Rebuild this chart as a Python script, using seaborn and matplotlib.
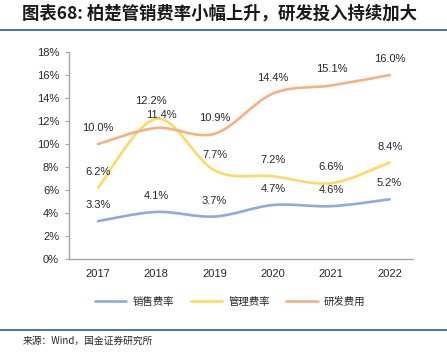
import matplotlib
matplotlib.use("Agg")
import matplotlib.pyplot as plt
import seaborn as sns
import numpy as np
from matplotlib.path import Path
from matplotlib.patches import PathPatch
from matplotlib.lines import Line2D

years = ["2017", "2018", "2019", "2020", "2021", "2022"]
sales_rate = [3.3, 4.1, 3.7, 4.7, 4.6, 5.2]      # 销售费率
admin_rate = [6.2, 12.2, 7.7, 7.2, 6.6, 8.4]     # 管理费率
rd_rate = [10.0, 11.4, 10.9, 14.4, 15.1, 16.0]   # 研发费用

series_names = ["销售费率", "管理费率", "研发费用"]
series_vals = [sales_rate, admin_rate, rd_rate]
colors = ["#8FAADC", "#FFD966", "#F4B183"]

sns.set_theme(style="white")
plt.rcParams["font.family"] = ["Liberation Sans", "Noto Sans CJK SC", "DejaVu Sans"]

fig = plt.figure(figsize=(4.47, 3.52), dpi=100)
ax = fig.add_axes([0.154, 0.264, 0.77, 0.588])


def smooth_path(xs, ys):
    # excel-like smoothed line: cubic bezier segments through every point
    pts = np.column_stack([xs, ys]).astype(float)
    ext = np.vstack([pts[0], pts, pts[-1]])
    verts = [pts[0]]
    codes = [Path.MOVETO]
    for i in range(len(pts) - 1):
        p0, p1, p2, p3 = ext[i], ext[i + 1], ext[i + 2], ext[i + 3]
        c1 = p1 + (p2 - p0) / 6.0
        c2 = p2 - (p3 - p1) / 6.0
        verts += [c1, c2, p2]
        codes += [Path.CURVE4] * 3
    return Path(verts, codes)


x = np.arange(len(years))
for name, vals, c in zip(series_names, series_vals, colors):
    patch = PathPatch(smooth_path(x, vals), facecolor="none", edgecolor=c,
                      lw=1.9, capstyle="round", joinstyle="round")
    ax.add_patch(patch)

# data labels, above the points (offsets in points)
for si, vals in enumerate(series_vals):
    for i, v in enumerate(vals):
        if si == 1 and i == 1:
            dx, dy = (-4, 13)
        elif si == 2 and i == 1:
            dx, dy = (4, 9)
        else:
            dx, dy = (0, 11.5)
        ax.annotate(f"{v:.1f}%", (i, v), xytext=(dx, dy), textcoords="offset points",
                    ha="center", va="center", fontsize=8, color="#262626")

ax.set_xlim(-0.5, 5.4)
ax.set_ylim(0, 18)
ax.set_xticks(x)
ax.set_xticklabels(years)
ax.set_yticks(np.arange(0, 19, 2))
ax.set_yticklabels([f"{t}%" for t in range(0, 19, 2)])
ax.tick_params(axis="y", which="major", direction="out", length=3, width=0.8,
               color="#A6A6A6", pad=4, labelsize=8, labelcolor="#262626", left=True)
ax.tick_params(axis="x", length=0, pad=7, labelsize=8, labelcolor="#262626")
for side in ["top", "right"]:
    ax.spines[side].set_visible(False)
for side in ["left", "bottom"]:
    ax.spines[side].set_color("#A6A6A6")
    ax.spines[side].set_linewidth(1.0)
ax.grid(False)

handles = [Line2D([0], [0], color=c, lw=1.9) for c in colors]
fig.legend(handles, series_names, loc="center", bbox_to_anchor=(0.515, 0.142),
           ncol=3, frameon=False, fontsize=7.5, handlelength=3.0,
           columnspacing=1.6, handletextpad=0.6)

# header / footer
fig.text(0.05, 0.962, "图表68: 柏楚管销费率小幅上升，研发投入持续加大",
         fontsize=12.5, fontweight="bold", color="#1A1A1A", va="center", ha="left",
         family=["Noto Sans CJK SC", "Liberation Sans"])
fig.add_artist(Line2D([0, 1], [0.915, 0.915], transform=fig.transFigure,
                      color="#2F6D9A", lw=1.3))
fig.add_artist(Line2D([0, 1], [0.063, 0.063], transform=fig.transFigure,
                      color="#2F6D9A", lw=1.3))
fig.text(0.05, 0.033, "来源：Wind，国金证券研究所", fontsize=7, color="#262626",
         va="center", ha="left", family=["Noto Sans CJK SC", "Liberation Sans"])

fig.savefig("out.png", dpi=100)
